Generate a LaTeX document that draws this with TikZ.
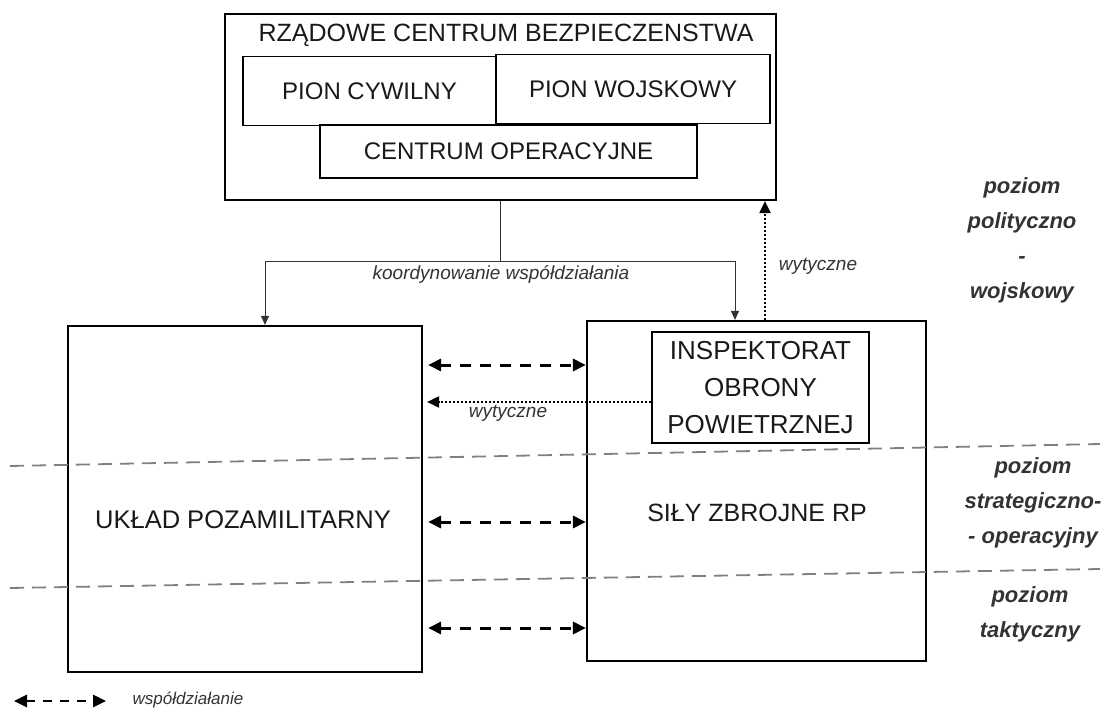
\documentclass[tikz,border=0pt]{standalone}
\usepackage{fontspec}
\setmainfont{Liberation Sans}
\usetikzlibrary{arrows.meta}
\begin{document}
\begin{tikzpicture}[x=1pt,y=-1pt,
  box/.style={draw=black, line width=2.2pt, inner sep=0pt},
  inbox/.style={draw=black, line width=1.8pt, inner sep=0pt},
  big/.style={font=\fontsize{24}{28}\selectfont, text=black!90},
  small/.style={font=\fontsize{19}{22}\selectfont\itshape, text=black!80},
  lvl/.style={font=\fontsize{22}{35}\selectfont\bfseries\itshape, text=black!80, align=center},
  coord/.style={draw=black!80, line width=1pt, -{Triangle[length=9pt,width=8pt]}},
  coop/.style={draw=black, line width=3pt, dash pattern=on 11pt off 9pt,
     {Triangle[length=13pt,width=12pt]}-{Triangle[length=13pt,width=12pt]}},
  guide/.style={draw=black, line width=2pt, dotted, -{Triangle[length=12pt,width=11pt]}},
  level/.style={draw=black!50, line width=1.8pt, dash pattern=on 14pt off 8pt}]

\path[use as bounding box] (0,0) rectangle (1117,714);

% top block
\node[box, minimum width=551pt, minimum height=186pt] (rcb) at (500.5,107) {};
\node[big, font=\fontsize{25}{28}\selectfont] (rcbt) at (506,35) {RZĄDOWE CENTRUM BEZPIECZENSTWA};
\node[inbox, big, minimum width=253pt, minimum height=69pt] (pc) at (369.5,91) {PION CYWILNY};
\node[inbox, big, minimum width=274pt, minimum height=69pt] (pw) at (633,89) {PION WOJSKOWY};
\node[inbox, big, minimum width=377pt, minimum height=53pt] (co) at (508.5,151.5) {CENTRUM OPERACYJNE};

% lower blocks
\node[box, minimum width=354pt, minimum height=346pt] (uklad) at (245,499) {};
\node[big, font=\fontsize{25.5}{28}\selectfont] (ukladt) at (243,520) {UKŁAD POZAMILITARNY};
\node[box, minimum width=339pt, minimum height=340pt] (sily) at (756.5,491) {};
\node[big, font=\fontsize{25}{28}\selectfont] (silyt) at (757,513) {SIŁY ZBROJNE RP};
\node[inbox, big, align=center, minimum width=217pt, minimum height=111pt,
      font=\fontsize{26}{37}\selectfont] (iop) at (760.5,387.5) {INSPEKTORAT\\OBRONY\\POWIETRZNEJ};

% level separators
\draw[level] (10,466) -- (1100,444);
\draw[level] (10,588) -- (1100,569);

% coordination connector
\coordinate (kl) at (265,262);
\coordinate (kr) at (735,262);
\draw[coord] (rcb.south) |- (kl) -- (kl |- uklad.north);
\draw[coord] (rcb.south) |- (kr) -- (kr |- sily.north);
\node[small] (kw) at (501,274) {koordynowanie współdziałania};

% guidelines up
\coordinate (wx) at (765,0);
\draw[guide] (sily.north -| wx) -- (rcb.south -| wx);
\node[small] (w1) at (818,266) {wytyczne};

% guidelines left
\coordinate (wy) at (0,402);
\draw[guide, shorten >=4pt] (iop.west |- wy) -- (uklad.east |- wy);
\node[small] (w2) at (508,413) {wytyczne};

% cooperation arrows
\coordinate (c1) at (0,365);
\coordinate (c2) at (0,522);
\coordinate (c3) at (0,628);
\draw[coop, shorten <=5pt] (uklad.east |- c1) -- (sily.west |- c1);
\draw[coop, shorten <=5pt] (uklad.east |- c2) -- (sily.west |- c2);
\draw[coop, shorten <=5pt] (uklad.east |- c3) -- (sily.west |- c3);

% level labels
\node[lvl] (l1) at (1022,240) {poziom\\polityczno\\-\\wojskowy};
\node[lvl] (l2) at (1033,503) {poziom\\strategiczno-\\- operacyjny};
\node[lvl] (l3) at (1030,614) {poziom\\taktyczny};

% legend
\coordinate (lg1) at (14,701);
\coordinate (lg2) at (106,701);
\draw[coop, line width=2.6pt, dash pattern=on 9pt off 8pt] (lg1) -- (lg2);
\node[small, font=\fontsize{17}{18}\selectfont\itshape] (lgt) at (188,700) {współdziałanie};
\end{tikzpicture}
\end{document}
